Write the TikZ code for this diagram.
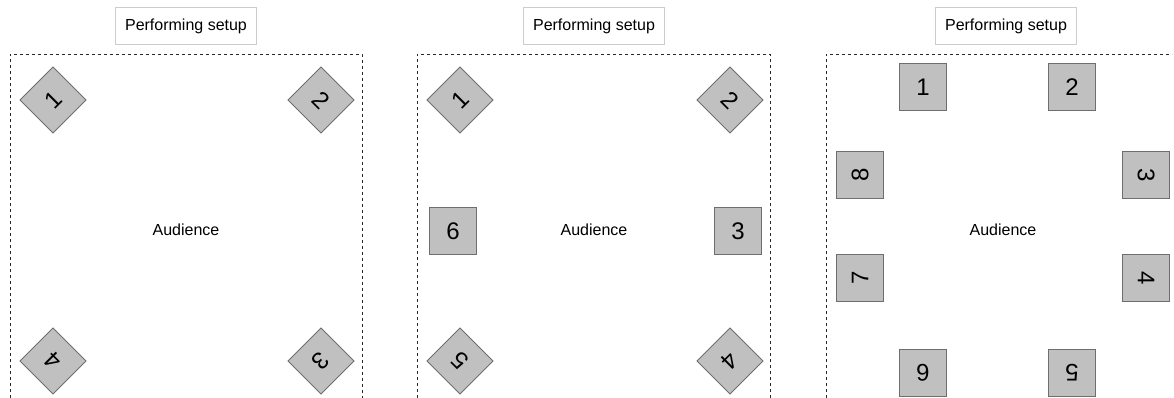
\documentclass[tikz,border=0pt]{standalone}
\usepackage{fontspec}
\setmainfont{Liberation Sans}
\definecolor{spkfill}{RGB}{192,192,192}
\definecolor{spkline}{RGB}{110,110,110}
\definecolor{titleline}{RGB}{204,204,204}
\tikzset{
  titlebox/.style={draw=titleline, fill=white, minimum width=106pt, minimum height=28pt, inner sep=0pt, font=\fontsize{12}{14}\selectfont},
  spk/.style={draw=spkline, fill=spkfill, line width=0.6pt, minimum size=35pt, inner sep=0pt, font=\fontsize{18}{18}\selectfont},
  hall/.style={dash pattern=on 2.6pt off 1.9pt, line width=0.7pt, color=black!85},
  crowd/.style={font=\fontsize{12}{14}\selectfont}
}

\begin{document}
\begin{tikzpicture}[x=0.75pt,y=0.75pt,yscale=-1,xscale=1]
\useasboundingbox (0,0) rectangle (1174,398);

%% first layout: four corners
\draw [hall] (10,398) -- (10,54) -- (362,54) -- (362,398) ;
\node [titlebox] (ttlA) at (186,26) {Performing setup};
\node [crowd] (audA) at (186,230) {Audience};
\node [spk, rotate=45] (a1) at (53,100) {1};
\node [spk, rotate=-45] (a2) at (321,100) {2};
\node [spk, rotate=-135] (a3) at (321,361) {3};
\node [spk, rotate=135] (a4) at (53,361) {4};

%% second layout: six speakers
\draw [hall] (417,398) -- (417,54) -- (770,54) -- (770,398) ;
\node [titlebox] (ttlB) at (594,26) {Performing setup};
\node [crowd] (audB) at (594,230) {Audience};
\node [spk, rotate=45] (b1) at (460,100) {1};
\node [spk, rotate=-45] (b2) at (730,100) {2};
\node [spk] (b3) at (738,231) {3};
\node [spk, rotate=-135] (b4) at (730,361) {4};
\node [spk, rotate=135] (b5) at (460,361) {5};
\node [spk] (b6) at (453,231) {6};

%% third layout: eight speakers
\draw [hall] (826,398) -- (826,54) -- (1172,54) ;
\node [titlebox] (ttlC) at (1006,26) {Performing setup};
\node [crowd] (audC) at (1003,230) {Audience};
\node [spk] (c1) at (923,87) {1};
\node [spk] (c2) at (1072,87) {2};
\node [spk, rotate=-90] (c3) at (1146,175) {3};
\node [spk, rotate=-90] (c4) at (1146,278) {4};
\node [spk, rotate=180] (c5) at (1072,373) {5};
\node [spk, rotate=180] (c6) at (923,373) {6};
\node [spk, rotate=90] (c7) at (860,278) {7};
\node [spk, rotate=90] (c8) at (860,175) {8};

\end{tikzpicture}
\end{document}
